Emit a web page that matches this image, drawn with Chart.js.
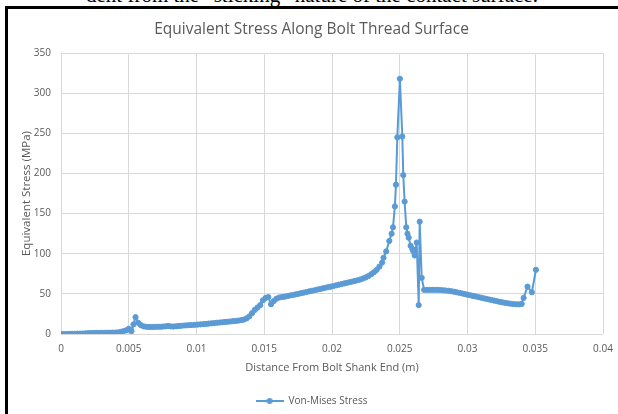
<!DOCTYPE html>
<html>
<head>
<meta charset="utf-8">
<script src="https://cdn.jsdelivr.net/npm/chart.js@4/dist/chart.umd.min.js"></script>
<style>
  html, body { margin: 0; padding: 0; background: #fff; }
  body { width: 618px; height: 414px; position: relative; overflow: hidden; }
  #topText { position: absolute; left: 86px; top: -17px; font-family: "Liberation Serif", serif; font-size: 21px; color: #000; white-space: nowrap; }
  #frame { position: absolute; left: 5px; top: 6px; width: 700px; height: 500px; border-left: 3px solid #000; border-top: 3px solid #000; }
  #graphCanvas { position: absolute; left: 0; top: 0; }
</style>
</head>
<body>
<div id="topText">dent from the “sticking” nature of the contact surface.</div>
<div id="frame"></div>
<canvas id="graphCanvas" width="618" height="414"></canvas>
<script>
var chartTitle = 'Equivalent Stress Along Bolt Thread Surface';
var seriesName = 'Von-Mises Stress';
var xTitle = 'Distance From Bolt Shank End (m)';
var yTitle = 'Equivalent Stress (MPa)';
var xTickLabels = ['0', '0.005', '0.01', '0.015', '0.02', '0.025', '0.03', '0.035', '0.04'];
var yTickLabels = ['0', '50', '100', '150', '200', '250', '300', '350'];

// distance along thread (m)
var distance = [
  0, 0.0002, 0.0004, 0.0006, 0.0008, 0.001, 0.0012, 0.0014, 0.0016, 0.0018,
  0.002, 0.0022, 0.0024, 0.0026, 0.0028, 0.003, 0.0032, 0.0034, 0.0036, 0.0038,
  0.004, 0.0042, 0.0044, 0.0046, 0.0048, 0.005, 0.00515, 0.0052, 0.00535, 0.0055,
  0.0057, 0.0059, 0.0061, 0.0063, 0.0065, 0.0067, 0.0069, 0.0071, 0.0073, 0.0075,
  0.0077, 0.0079, 0.0081, 0.0083, 0.0085, 0.0087, 0.0089, 0.0091, 0.0093, 0.0095,
  0.0097, 0.0099, 0.0101, 0.0103, 0.0105, 0.0107, 0.0109, 0.0111, 0.0113, 0.0115,
  0.0117, 0.0119, 0.0121, 0.0123, 0.0125, 0.0127, 0.0129, 0.0131, 0.0133, 0.0135,
  0.0137, 0.0139, 0.0141, 0.0143, 0.0145, 0.0147, 0.0149, 0.0151, 0.0153, 0.0155,
  0.0157, 0.0159, 0.0161, 0.0163, 0.0165, 0.0167, 0.0169, 0.0171, 0.0173, 0.0175,
  0.0177, 0.0179, 0.0181, 0.0183, 0.0185, 0.0187, 0.0189, 0.0191, 0.0193, 0.0195,
  0.0197, 0.0199, 0.0201, 0.0203, 0.0205, 0.0207, 0.0209, 0.0211, 0.0213, 0.0215,
  0.0217, 0.0219, 0.0221, 0.0223, 0.0225, 0.0227, 0.0229, 0.0231, 0.0233, 0.0235,
  0.0237, 0.0238, 0.024, 0.02423, 0.0244, 0.0245, 0.02464, 0.02472, 0.02482, 0.02501,
  0.02519, 0.02526, 0.02536, 0.02548, 0.02557, 0.02566, 0.0258, 0.02593, 0.026, 0.0261,
  0.02625, 0.0264, 0.02647, 0.02662, 0.0268, 0.027, 0.0272, 0.0274, 0.0276, 0.0278,
  0.028, 0.0282, 0.0284, 0.0286, 0.0288, 0.029, 0.0292, 0.0294, 0.0296, 0.0298,
  0.03, 0.0302, 0.0304, 0.0306, 0.0308, 0.031, 0.0312, 0.0314, 0.0316, 0.0318,
  0.032, 0.0322, 0.0324, 0.0326, 0.0328, 0.033, 0.0332, 0.0334, 0.0336, 0.0338,
  0.034, 0.03414, 0.03443, 0.03475, 0.03505
];

// equivalent stress (MPa)
var stress = [
  0, 0, 0, 0.2, 0.3, 0.3, 0.5, 0.5, 0.6, 0.8,
  1, 1.2, 1.3, 1.3, 1.4, 1.5, 1.5, 1.6, 1.6, 1.7,
  1.8, 2, 2.6, 3.5, 4.5, 6.5, 5, 3.5, 12, 21,
  14, 11, 9.5, 9, 8.8, 8.7, 8.8, 9, 9, 9.2,
  9.5, 10, 9.5, 9.3, 9.6, 10, 10.3, 10.6, 10.8, 11,
  11.2, 11.5, 11.8, 12, 12.3, 12.6, 13, 13.3, 13.6, 14,
  14.3, 14.6, 15, 15.3, 15.6, 16, 16.3, 16.7, 17.2, 18,
  19.5, 22, 26, 30, 33, 36, 42, 45, 46, 37,
  41, 44, 45.5, 46, 46.5, 47.2, 48, 48.6, 49.3, 50,
  50.8, 51.5, 52.2, 53, 53.8, 54.5, 55.3, 56, 56.8, 57.6,
  58.3, 59, 59.8, 60.6, 61.4, 62.2, 63, 63.8, 64.6, 65.4,
  66.2, 67, 68, 69.2, 70.6, 72.3, 74.5, 77, 80, 84,
  89, 95, 103, 116, 125, 133, 159, 186, 245, 318,
  246, 198, 165, 133, 125, 120, 110, 106, 103, 98,
  114, 36, 140, 70, 55, 55, 55, 55, 55, 55,
  54.8, 54.5, 54.2, 53.8, 53.3, 52.7, 52, 51.3, 50.5, 49.8,
  49, 48.3, 47.5, 46.8, 46, 45.3, 44.5, 43.7, 43, 42.2,
  41.5, 40.8, 40, 39.3, 38.7, 38.2, 37.7, 37.3, 37, 37,
  37.5, 45, 59, 52, 80
];

var blue = '#5b9bd5';
var textGray = '#595959';
var gridGray = '#d9d9d9';
var fontName = 'Open Sans';

function legendIcon() {
    var c = document.createElement('canvas');
    c.width = 28;
    c.height = 8;
    var g = c.getContext('2d');
    g.strokeStyle = blue;
    g.lineWidth = 2;
    g.beginPath();
    g.moveTo(0, 4);
    g.lineTo(28, 4);
    g.stroke();
    g.fillStyle = blue;
    g.beginPath();
    g.arc(14, 4, 3, 0, Math.PI * 2);
    g.fill();
    return c;
}

var points = [];
for (var i = 0; i < distance.length; i++) {
    points.push({ x: distance[i], y: stress[i] });
}

var icon = legendIcon();

var chartdata = {
    datasets: [
        {
            label: seriesName,
            data: points,
            showLine: true,
            borderColor: blue,
            backgroundColor: blue,
            borderWidth: 2,
            pointRadius: 2.6,
            pointBorderWidth: 1,
            pointBackgroundColor: blue,
            pointBorderColor: blue,
            pointStyle: 'circle',
            tension: 0
        }
    ]
};

var graphTarget = document.getElementById('graphCanvas');

var scatterGraph = new Chart(graphTarget, {
    type: 'scatter',
    data: chartdata,
    options: {
        responsive: false,
        animation: false,
        devicePixelRatio: 1,
        layout: { padding: { left: 20, right: 15, top: 0, bottom: -2 } },
        plugins: {
            title: {
                display: true,
                text: chartTitle,
                color: textGray,
                font: { family: fontName, size: 15.5, weight: 'normal' },
                padding: { top: 20, bottom: 14.5 }
            },
            legend: {
                display: true,
                position: 'bottom',
                labels: {
                    color: textGray,
                    font: { family: fontName, size: 10 },
                    usePointStyle: true,
                    pointStyleWidth: 28,
                    padding: 0,
                    generateLabels: function (chart) {
                        return [{
                            text: seriesName,
                            pointStyle: icon,
                            fillStyle: blue,
                            strokeStyle: blue,
                            lineWidth: 0,
                            fontColor: textGray,
                            datasetIndex: 0
                        }];
                    }
                }
            },
            tooltip: { enabled: false }
        },
        scales: {
            x: {
                type: 'linear',
                min: 0,
                max: 0.04,
                afterFit: function (scale) { scale.height = 62; },
                ticks: {
                    stepSize: 0.005,
                    color: textGray,
                    font: { family: fontName, size: 10 },
                    padding: 3,
                    maxRotation: 0,
                    callback: function (value, index) { return xTickLabels[index]; }
                },
                grid: { color: gridGray, lineWidth: 1, drawTicks: true, tickLength: 6, tickColor: 'rgba(0,0,0,0)' },
                border: { display: false },
                title: {
                    display: true,
                    text: xTitle,
                    color: textGray,
                    font: { family: fontName, size: 11 },
                    padding: { top: 0, bottom: 22 }
                }
            },
            y: {
                type: 'linear',
                min: 0,
                max: 350,
                afterFit: function (scale) { scale.width = 41; },
                ticks: {
                    stepSize: 50,
                    color: textGray,
                    font: { family: fontName, size: 10 },
                    padding: 10,
                    callback: function (value, index) { return yTickLabels[index]; }
                },
                grid: { color: gridGray, lineWidth: 1, drawTicks: false },
                border: { display: false },
                title: {
                    display: true,
                    text: yTitle,
                    color: textGray,
                    font: { family: fontName, size: 11.5 },
                    padding: { top: 0, bottom: 0 }
                }
            }
        }
    }
});
</script>
</body>
</html>
